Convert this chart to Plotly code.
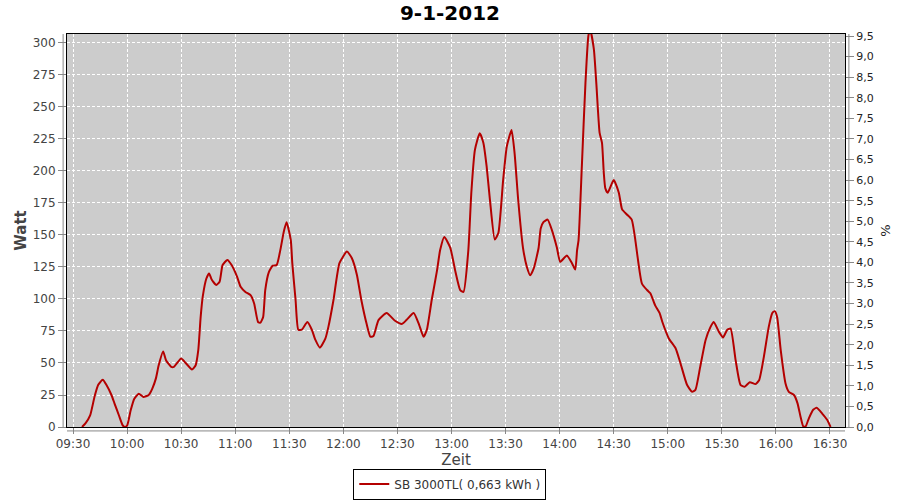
import plotly.graph_objects as go

DAY = "2012-01-09 "

times = [
    "09:35:00", "09:37:00", "09:39:30", "09:42:00", "09:44:00", "09:46:30", "09:48:30", "09:51:20",
    "09:53:00", "09:55:30", "09:57:30", "09:58:40", "10:00:00", "10:02:00", "10:04:00", "10:06:30",
    "10:09:00", "10:12:00", "10:14:00", "10:16:00", "10:17:30", "10:20:00", "10:21:40", "10:24:30",
    "10:26:00", "10:30:00", "10:32:30", "10:36:00", "10:38:00", "10:39:30", "10:40:50", "10:42:00",
    "10:44:00", "10:45:30", "10:47:00", "10:49:30", "10:51:20", "10:53:00", "10:55:40", "10:58:00",
    "11:01:00", "11:03:00", "11:05:40", "11:08:30", "11:10:30", "11:12:40", "11:14:00", "11:15:30",
    "11:16:40", "11:18:40", "11:20:50", "11:23:00", "11:25:00", "11:27:00", "11:28:30", "11:30:50",
    "11:31:40", "11:33:30", "11:35:00", "11:37:00", "11:40:00", "11:42:30", "11:44:30", "11:47:00",
    "11:50:00", "11:51:40", "11:54:30", "11:57:50", "12:02:00", "12:04:40", "12:07:30", "12:10:00",
    "12:13:00", "12:15:00", "12:16:40", "12:19:30", "12:24:00", "12:28:40", "12:32:30", "12:35:00",
    "12:39:00", "12:42:00", "12:44:30", "12:46:20", "12:49:00", "12:52:00", "12:53:40", "12:56:00",
    "12:59:20", "13:02:00", "13:04:50", "13:06:40", "13:09:20", "13:11:00", "13:13:00", "13:15:40",
    "13:17:40", "13:19:30", "13:21:20", "13:24:00", "13:26:00", "13:28:40", "13:30:40", "13:33:20",
    "13:35:00", "13:37:00", "13:39:40", "13:41:50", "13:43:40", "13:45:40", "13:48:20", "13:49:30",
    "13:51:00", "13:53:20", "13:55:40", "13:58:30", "14:00:20", "14:04:00", "14:06:50", "14:08:40",
    "14:09:40", "14:10:30", "14:12:20", "14:14:20", "14:16:00", "14:17:00", "14:19:00", "14:20:20",
    "14:22:10", "14:23:30", "14:24:30", "14:25:20", "14:26:40", "14:30:00", "14:32:50", "14:34:40",
    "14:37:20", "14:40:00", "14:42:00", "14:43:00", "14:45:40", "14:48:30", "14:50:20", "14:53:00",
    "14:55:30", "14:57:00", "15:00:40", "15:04:20", "15:07:00", "15:10:40", "15:13:30", "15:15:20",
    "15:18:00", "15:21:00", "15:23:40", "15:25:30", "15:28:20", "15:30:40", "15:33:00", "15:34:50",
    "15:37:40", "15:40:20", "15:42:40", "15:45:30", "15:48:40", "15:50:40", "15:53:20", "15:56:00",
    "15:58:00", "15:59:20", "16:00:40", "16:02:40", "16:05:20", "16:07:10", "16:10:00", "16:12:00",
    "16:13:40", "16:15:10", "16:16:30", "16:18:20", "16:20:40", "16:22:40", "16:25:40", "16:28:30",
    "16:30:20",
]

watt = [
    0, 3, 9, 24, 33, 37, 33, 25,
    18.5, 9, 1.5, 0, 1, 13, 22, 26,
    23.5, 25, 30, 38, 48, 59, 52, 47,
    47, 53.5, 50, 45, 48, 60, 86, 102,
    116, 120, 115, 111, 113.5, 126.5, 130.5, 126.5,
    117.5, 109.5, 105.5, 103, 96.5, 82, 81.5, 86,
    107, 121, 126, 126.5, 138, 153, 160, 146,
    128, 99, 76, 76, 82, 76, 68, 62,
    69, 78, 99, 128, 137, 132, 119, 99,
    80, 70.5, 71, 83.5, 89, 83, 80.5, 83.5,
    89, 80, 70.5, 76, 99, 122.5, 138, 148.5,
    140, 122.5, 107, 105.5, 138, 183, 216.5, 229.5,
    222, 203.5, 177.5, 146.5, 151.5, 193, 219, 232,
    214, 177.5, 140, 125, 118.5, 124, 140, 155,
    160, 162, 154, 140, 129, 134, 128, 123,
    138, 146, 204, 269, 306, 310, 295, 269,
    230, 222, 198.5, 186.5, 183, 193, 183, 170,
    166, 162, 146, 135.5, 112, 107, 104.5, 95,
    89, 82, 69, 61.5, 50, 33, 27.5, 29,
    47, 68, 78, 82, 74.5, 70, 76, 77,
    52, 33, 31.5, 35, 33.5, 36.5, 55, 78,
    89, 90.5, 86, 60, 34, 27.5, 25, 18.5,
    8, 0.5, 0.5, 7, 13.5, 15, 10.5, 5.5,
    0,
]

series_name = "SB 3000TL( 0,663 kWh )"
title_text = "9-1-2012"
x_title = "Zeit"
y_title = "Watt"
y2_title = "%"

x = [DAY + t for t in times]

fig = go.Figure()
fig.add_trace(go.Scatter(
    x=x, y=watt, mode="lines", name=series_name,
    line=dict(color="#B40000", width=2, shape="spline", smoothing=0.5),
))
fig.add_trace(go.Scatter(
    x=[x[0]], y=[None], yaxis="y2", mode="lines", showlegend=False,
    hoverinfo="skip",
))

grid = dict(showgrid=True, gridcolor="white", griddash="3px,2px", gridwidth=1)
tickfont = dict(family="DejaVu Sans", size=12, color="#444444")

fig.update_layout(
    width=900, height=500,
    margin=dict(l=67, r=55, t=34, b=73, autoexpand=False),
    paper_bgcolor="white", plot_bgcolor="#CCCCCC",
    separators=",.",
    font=dict(family="DejaVu Sans", color="#444444"),
    title=dict(text="<b>" + title_text + "</b>", x=0.5, xanchor="center",
               y=0.974, yanchor="middle",
               font=dict(family="DejaVu Sans", size=20, color="black")),
    xaxis=dict(
        type="date", range=[DAY + "09:26:40", DAY + "16:38:20"],
        tick0=DAY + "09:30:00", dtick=1800000, tickformat="%H:%M",
        ticks="outside", ticklen=6, tickcolor="#888888", tickfont=tickfont,
        showline=True, linecolor="black", linewidth=1, mirror=True,
        zeroline=False, automargin=False,
        title=dict(text=x_title, font=dict(family="DejaVu Sans", size=15, color="#444444"), standoff=2),
        **grid,
    ),
    yaxis=dict(
        range=[0, 307], dtick=25, tick0=0,
        ticks="outside", ticklen=8, tickcolor="#888888", tickfont=tickfont,
        showline=True, linecolor="black", linewidth=1, mirror=True,
        zeroline=False, automargin=False,
        title=dict(text="<b>" + y_title + "</b>", font=dict(family="DejaVu Sans", size=15, color="#444444"), standoff=2),
        **grid,
    ),
    yaxis2=dict(
        overlaying="y", side="right", range=[0, 9.55], dtick=0.5, tick0=0,
        tickformat=".1f", ticks="outside", ticklen=8, tickcolor="#888888",
        tickfont=dict(family="DejaVu Sans", size=11, color="#222222"),
        showgrid=False, zeroline=False, showline=False, automargin=False,
        title=dict(text=y2_title, font=dict(family="DejaVu Sans", size=13, color="#222222"), standoff=8),
    ),
    legend=dict(
        orientation="h", x=0.492, xanchor="center", y=-0.1845, yanchor="bottom",
        bordercolor="black", borderwidth=1, bgcolor="white",
        itemwidth=30,
        font=dict(family="DejaVu Sans", size=12, color="#333333"),
    ),
    shapes=[
        dict(type="line", xref="paper", yref="paper", x0=-0.005, x1=-0.005, y0=0, y1=1,
             line=dict(color="#888888", width=1)),
        dict(type="line", xref="paper", yref="paper", x0=1.005, x1=1.005, y0=0, y1=1,
             line=dict(color="#888888", width=1)),
        dict(type="line", xref="paper", yref="paper", x0=0, x1=1, y0=-0.01, y1=-0.01,
             line=dict(color="#888888", width=1)),
    ],
)

fig.write_html("out.html", config={"displayModeBar": False},
               post_script="document.body.style.margin='0px';")
